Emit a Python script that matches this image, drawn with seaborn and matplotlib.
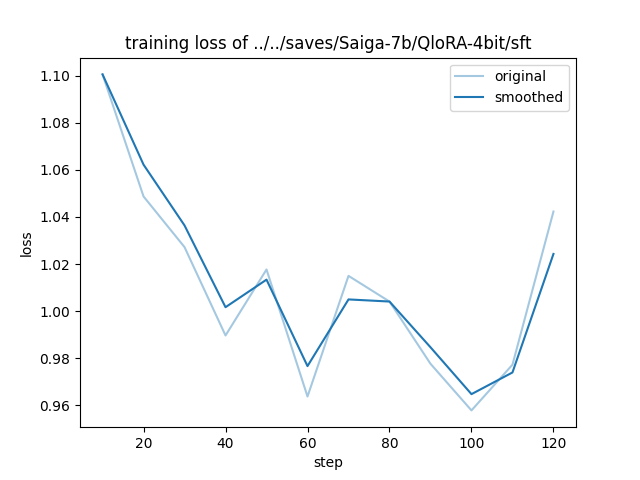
import matplotlib
matplotlib.use("Agg")
import matplotlib.pyplot as plt
import seaborn as sns
import pandas as pd

steps = [10, 20, 30, 40, 50, 60, 70, 80, 90, 100, 110, 120]
original = [1.1005, 1.0487, 1.0272, 0.9897, 1.0177, 0.9638, 1.0150, 1.0041, 0.9777, 0.9579, 0.9773, 1.0423]
smoothed = [1.1005, 1.0622, 1.0364, 1.0017, 1.0134, 0.9767, 1.0050, 1.0041, 0.9847, 0.9648, 0.9740, 1.0243]

df = pd.DataFrame({"step": steps, "original": original, "smoothed": smoothed})

fig, ax = plt.subplots(figsize=(6.4, 4.8), dpi=100)
sns.lineplot(data=df, x="step", y="original", ax=ax, color="#1f77b4", alpha=0.4, label="original")
sns.lineplot(data=df, x="step", y="smoothed", ax=ax, color="#1f77b4", label="smoothed")
ax.set_title("training loss of ../../saves/Saiga-7b/QloRA-4bit/sft")
ax.set_xlabel("step")
ax.set_ylabel("loss")
ax.legend(loc="upper right")
fig.savefig("out.png", dpi=100)
